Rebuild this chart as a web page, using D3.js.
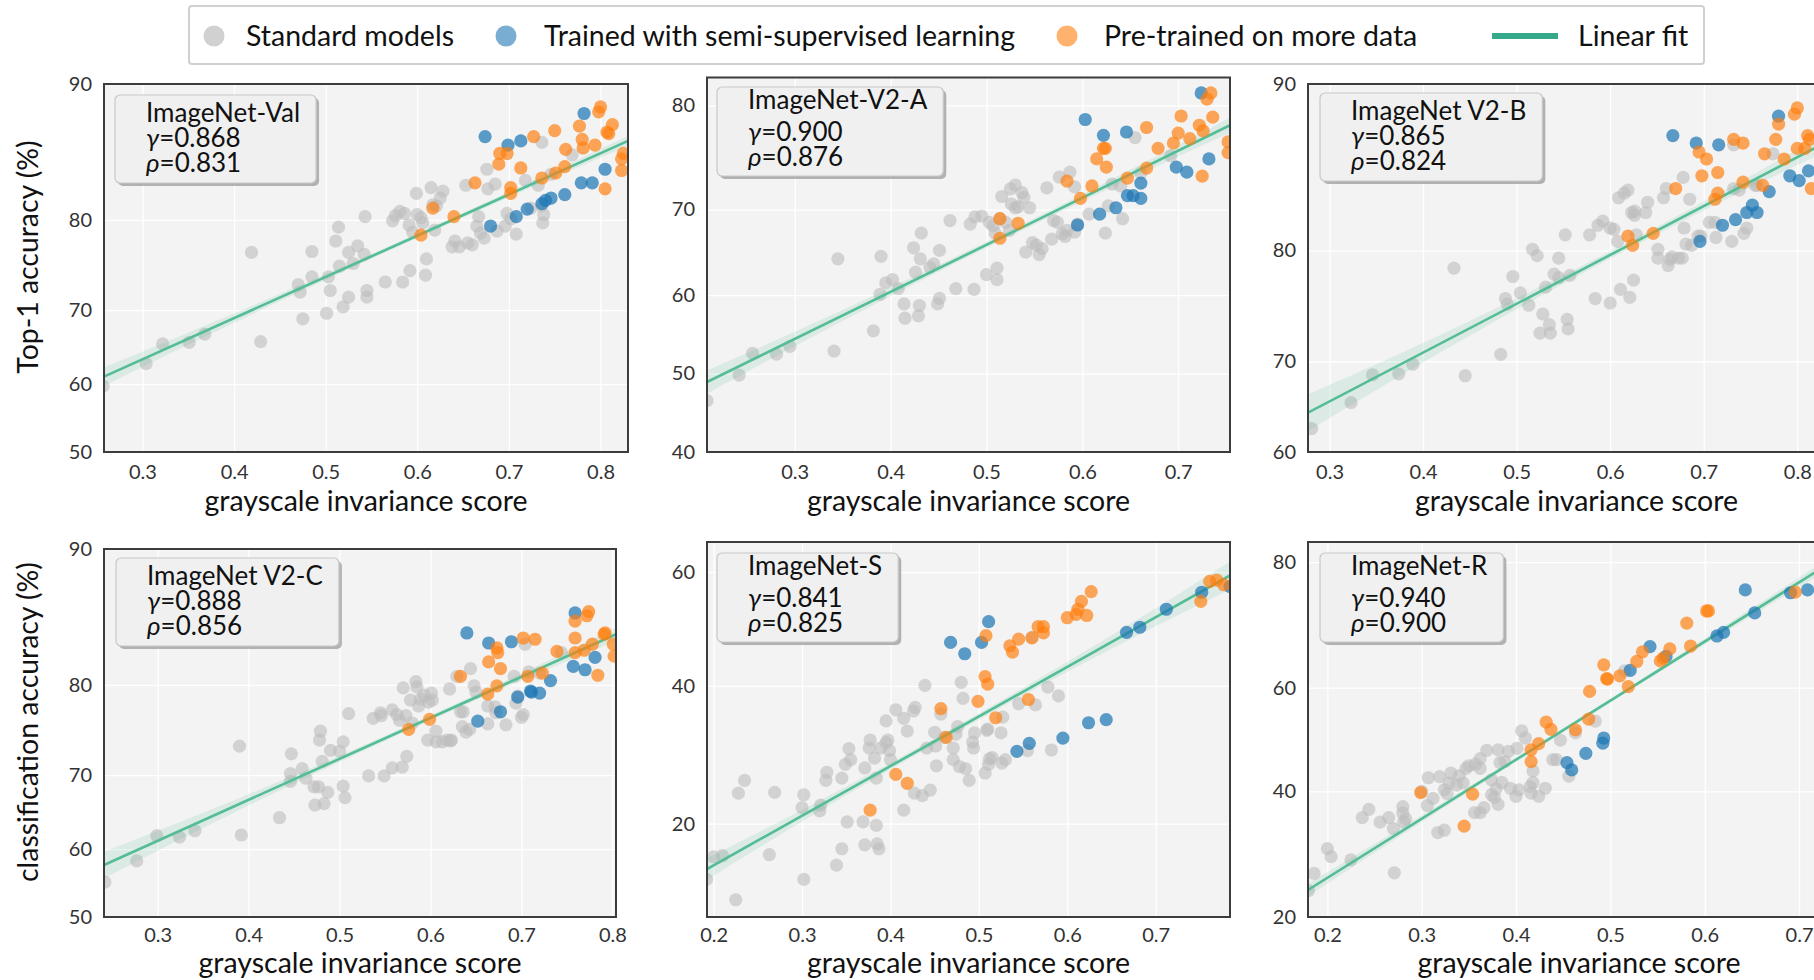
<!DOCTYPE html>
<html><head><meta charset="utf-8">
<script src="https://cdn.jsdelivr.net/npm/d3@7"></script>
<style>
body{margin:0;background:#fff;}
svg text{font-family:Lato,"Open Sans","Noto Sans",sans-serif;}
</style>
</head><body>
<svg id="chart" width="1814" height="980"></svg>
<script>
// ---------------- DATA ----------------
const panelNames = ["ImageNet-Val","ImageNet-V2-A","ImageNet V2-B","ImageNet V2-C","ImageNet-S","ImageNet-R"];
const gammaVals = ["0.868","0.900","0.865","0.888","0.841","0.940"];
const rhoVals   = ["0.831","0.876","0.824","0.856","0.825","0.900"];
const rowYLabels = ["Top-1 accuracy (%)","classification accuracy (%)"];
const xLabel = "grayscale invariance score";
const legendLabels = ["Standard models","Trained with semi-supervised learning","Pre-trained on more data","Linear fit"];

const xDomains = [[0.258,0.830],[0.2085,0.754],[0.277,0.851],[0.241,0.804],[0.1925,0.784],[0.1795,0.754]];
const yDomains = [[50,90],[40,82.2],[60,90],[50,90],[11.4,65.0],[20,82.4]];
const xTicks = [[0.3,0.4,0.5,0.6,0.7,0.8],[0.3,0.4,0.5,0.6,0.7],[0.3,0.4,0.5,0.6,0.7,0.8],
                [0.3,0.4,0.5,0.6,0.7,0.8],[0.2,0.3,0.4,0.5,0.6,0.7],[0.2,0.3,0.4,0.5,0.6,0.7]];
const yTicks = [[50,60,70,80,90],[40,50,60,70,80],[60,70,80,90],[50,60,70,80,90],[20,40,60],[20,40,60,80]];

// linear fit endpoints (x0,y0,x1,y1) and CI half-width (logit units) at left, middle, right
const fitLines = [[0.257,61.0,0.830,86.5],[0.2085,48.9,0.754,78.3],[0.279,64.6,0.818,86.8],
                  [0.241,57.7,0.804,84.4],[0.192,15.3,0.784,59.4],[0.1795,23.6,0.712,78.3]];
const fitBands = [[0.055,0.015,0.03],[0.06,0.016,0.04],[0.09,0.02,0.05],[0.08,0.017,0.04],[0.077,0.022,0.1],[0.05,0.015,0.05]];

// ImageNet-Val
const valStd = [[0.257,59.7],[0.304,62.9],[0.322,65.6],[0.351,65.8],[0.368,66.9],[0.419,76.7],[0.429,65.9],[0.470,73.1],[0.472,72.2],[0.475,68.9],[0.485,74.0],[0.485,76.8],[0.501,69.6],[0.505,72.4],[0.503,74.0],[0.511,77.9],[0.514,79.3],[0.515,75.2],[0.519,70.4],[0.525,71.6],[0.525,76.7],[0.530,75.5],[0.535,77.4],[0.542,76.5],[0.543,80.3],[0.545,72.4],[0.545,71.6],[0.565,73.4],[0.573,79.9],[0.576,80.4],[0.581,80.8],[0.584,73.4],[0.586,80.6],[0.592,74.7],[0.591,79.5],[0.595,78.8],[0.599,82.4],[0.600,80.5],[0.604,80.2],[0.606,79.7],[0.609,74.2],[0.610,76.0],[0.615,82.9],[0.617,81.4],[0.619,79.0],[0.621,81.3],[0.625,82.0],[0.628,82.6],[0.638,77.3],[0.641,77.9],[0.646,77.3],[0.653,83.1],[0.655,77.7],[0.660,77.5],[0.667,80.3],[0.665,79.4],[0.669,78.7],[0.676,84.4],[0.677,82.8],[0.673,78.2],[0.685,83.2],[0.687,78.9],[0.696,79.4],[0.698,80.6],[0.702,80.1],[0.708,78.6],[0.718,83.5],[0.724,81.1],[0.732,83.1],[0.736,86.4],[0.737,79.7],[0.738,80.5],[0.746,84.0],[0.769,85.5],[0.736,81.3]];
const valSemi = [[0.674,86.8],[0.699,86.2],[0.713,86.5],[0.782,88.3],[0.708,80.3],[0.720,81.0],[0.736,81.5],[0.740,81.8],[0.746,82.0],[0.761,82.3],[0.779,83.3],[0.791,83.3],[0.805,84.4],[0.680,79.4]];
const valMore = [[0.800,88.7],[0.798,88.4],[0.813,87.6],[0.807,87.1],[0.809,87.0],[0.777,87.5],[0.780,86.6],[0.781,86.0],[0.794,86.2],[0.750,87.2],[0.727,86.8],[0.762,85.9],[0.690,85.6],[0.698,85.6],[0.689,84.8],[0.713,84.5],[0.663,83.3],[0.702,82.9],[0.702,82.4],[0.761,84.6],[0.736,83.7],[0.751,84.1],[0.805,82.8],[0.823,85.2],[0.825,85.6],[0.823,84.3],[0.640,80.3],[0.604,78.5],[0.617,81.1]];

// ImageNet-V2-A
const v2aStd = [[0.2085,46.5],[0.242,49.8],[0.256,52.6],[0.281,52.5],[0.295,53.5],[0.341,52.9],[0.345,64.4],[0.382,55.5],[0.390,64.7],[0.389,60.1],[0.395,61.5],[0.402,61.9],[0.408,60.8],[0.414,58.9],[0.415,57.1],[0.424,65.7],[0.426,62.8],[0.429,57.4],[0.430,58.7],[0.431,64.4],[0.432,67.4],[0.441,63.4],[0.445,63.8],[0.449,58.9],[0.451,59.6],[0.451,65.4],[0.462,68.8],[0.468,60.8],[0.483,68.4],[0.487,60.7],[0.488,69.2],[0.495,69.3],[0.500,62.5],[0.503,68.6],[0.507,68.2],[0.509,67.4],[0.511,63.3],[0.511,61.9],[0.514,69.0],[0.516,71.4],[0.520,68.6],[0.524,67.7],[0.525,72.2],[0.526,70.6],[0.530,72.6],[0.530,70.2],[0.533,70.3],[0.537,71.8],[0.539,71.3],[0.541,65.2],[0.545,70.2],[0.548,66.3],[0.552,66.0],[0.555,64.9],[0.558,65.6],[0.563,72.3],[0.568,66.7],[0.570,68.8],[0.574,68.6],[0.576,73.4],[0.579,67.3],[0.582,67.0],[0.584,67.7],[0.587,73.9],[0.592,72.4],[0.592,67.5],[0.595,68.4],[0.607,69.5],[0.624,67.4],[0.627,70.4],[0.631,72.7],[0.640,72.5],[0.642,69.0],[0.655,77.2],[0.661,73.8],[0.692,75.5]];
const v2aSemi = [[0.603,78.8],[0.622,77.4],[0.646,77.7],[0.724,81.0],[0.732,75.2],[0.698,74.4],[0.709,73.9],[0.661,72.8],[0.647,71.5],[0.653,71.5],[0.661,71.2],[0.635,70.2],[0.618,69.5],[0.595,68.3]];
const v2aMore = [[0.734,81.0],[0.730,80.5],[0.703,79.1],[0.736,79.0],[0.722,78.3],[0.726,77.8],[0.700,77.6],[0.712,77.1],[0.695,76.7],[0.667,78.1],[0.752,76.8],[0.752,75.8],[0.679,76.2],[0.622,76.2],[0.624,76.2],[0.615,75.2],[0.625,74.4],[0.667,74.3],[0.647,73.3],[0.725,73.5],[0.584,73.0],[0.610,72.5],[0.598,71.2],[0.533,68.5],[0.514,69.0],[0.514,66.8]];

// ImageNet V2-B
const v2bStd = [[0.281,62.7],[0.323,65.6],[0.346,68.6],[0.374,68.7],[0.389,69.7],[0.433,78.6],[0.445,68.5],[0.483,70.7],[0.488,76.0],[0.490,75.5],[0.496,77.9],[0.504,76.5],[0.513,75.4],[0.517,80.1],[0.522,79.6],[0.525,72.8],[0.528,74.6],[0.531,77.0],[0.535,73.6],[0.536,72.8],[0.540,78.1],[0.545,79.4],[0.545,77.8],[0.552,81.2],[0.554,74.1],[0.555,73.2],[0.557,78.0],[0.578,81.2],[0.584,76.0],[0.587,81.9],[0.592,82.2],[0.600,81.7],[0.600,75.6],[0.604,81.6],[0.608,80.7],[0.609,83.8],[0.611,76.8],[0.615,84.1],[0.619,84.3],[0.621,76.1],[0.623,82.8],[0.625,77.6],[0.626,82.9],[0.626,82.6],[0.628,81.2],[0.638,82.8],[0.640,83.5],[0.651,80.1],[0.651,79.4],[0.657,83.8],[0.660,84.4],[0.662,78.8],[0.664,79.3],[0.666,79.5],[0.673,79.4],[0.677,79.4],[0.678,85.1],[0.679,81.7],[0.681,80.5],[0.685,83.7],[0.687,80.4],[0.694,81.1],[0.697,81.1],[0.706,82.1],[0.712,82.1],[0.713,81.0],[0.730,80.7],[0.732,87.0],[0.732,84.4],[0.738,84.3],[0.743,81.3],[0.746,81.7],[0.757,84.6],[0.774,86.5],[0.755,84.6]];
const v2bSemi = [[0.667,87.5],[0.692,87.1],[0.716,87.0],[0.780,88.5],[0.792,85.2],[0.802,84.9],[0.812,85.5],[0.770,84.2],[0.752,83.3],[0.746,82.8],[0.757,82.8],[0.734,82.3],[0.720,81.9],[0.696,80.7]];
const v2bMore = [[0.800,88.9],[0.797,88.6],[0.780,88.1],[0.777,87.3],[0.811,87.5],[0.813,87.3],[0.800,86.8],[0.808,86.8],[0.732,87.3],[0.742,87.1],[0.695,86.6],[0.703,86.2],[0.765,86.5],[0.786,86.2],[0.698,85.2],[0.715,85.4],[0.742,84.8],[0.763,84.6],[0.670,84.4],[0.715,84.1],[0.712,83.7],[0.815,84.4],[0.646,81.3],[0.619,81.1],[0.624,80.4]];

// ImageNet V2-C
const v2cStd = [[0.242,55.2],[0.277,58.3],[0.299,61.9],[0.324,61.7],[0.341,62.6],[0.390,73.5],[0.392,62.0],[0.434,64.4],[0.447,72.6],[0.446,70.2],[0.446,69.2],[0.459,70.8],[0.463,69.6],[0.472,68.5],[0.473,66.1],[0.477,68.5],[0.479,75.2],[0.478,74.2],[0.481,71.7],[0.483,66.3],[0.487,67.8],[0.490,73.0],[0.500,72.9],[0.504,74.0],[0.504,68.6],[0.506,67.1],[0.510,77.1],[0.532,69.9],[0.537,76.6],[0.545,77.2],[0.546,76.9],[0.549,69.9],[0.558,70.9],[0.558,77.5],[0.563,77.0],[0.566,76.4],[0.569,71.0],[0.570,79.7],[0.573,76.9],[0.574,72.3],[0.578,78.5],[0.580,76.1],[0.584,80.3],[0.585,79.8],[0.587,77.9],[0.589,78.6],[0.593,79.0],[0.597,74.2],[0.598,78.3],[0.601,79.2],[0.602,78.5],[0.606,75.2],[0.606,74.0],[0.613,74.0],[0.618,74.2],[0.621,79.6],[0.622,74.1],[0.623,74.2],[0.629,80.8],[0.633,77.3],[0.635,75.7],[0.636,77.3],[0.639,75.1],[0.643,75.4],[0.644,81.5],[0.648,79.9],[0.650,79.3],[0.663,76.0],[0.663,77.9],[0.671,77.8],[0.672,77.2],[0.683,75.9],[0.692,80.8],[0.694,78.2],[0.696,78.9],[0.700,76.7],[0.702,77.0],[0.704,83.6],[0.708,81.2],[0.720,81.1],[0.744,82.9]];
const v2cSemi = [[0.640,84.5],[0.664,83.7],[0.689,83.8],[0.759,86.0],[0.781,82.5],[0.757,81.7],[0.770,81.4],[0.732,80.4],[0.711,79.3],[0.710,79.4],[0.720,79.2],[0.696,78.8],[0.677,77.3],[0.652,76.3]];
const v2cMore = [[0.774,86.1],[0.772,85.8],[0.759,85.4],[0.759,84.1],[0.792,84.5],[0.791,84.4],[0.801,83.6],[0.802,82.6],[0.778,83.6],[0.769,83.1],[0.759,82.9],[0.739,83.0],[0.702,84.1],[0.715,84.0],[0.673,83.3],[0.674,82.9],[0.664,82.1],[0.677,81.5],[0.707,80.8],[0.723,81.1],[0.784,80.9],[0.633,80.8],[0.663,79.1],[0.673,79.9],[0.599,76.5],[0.576,75.4]];

// ImageNet-S
const sStd = [[0.192,14.4],[0.200,16.5],[0.210,16.6],[0.225,12.7],[0.228,23.7],[0.235,25.4],[0.263,16.7],[0.269,23.8],[0.302,23.5],[0.300,21.9],[0.302,14.4],[0.320,21.5],[0.321,22.2],[0.327,25.4],[0.328,26.5],[0.339,15.7],[0.345,17.3],[0.345,25.7],[0.349,27.6],[0.351,20.2],[0.355,28.3],[0.353,29.9],[0.369,20.2],[0.371,27.1],[0.371,17.7],[0.376,30.0],[0.377,31.2],[0.382,28.5],[0.384,19.8],[0.384,25.7],[0.385,17.8],[0.387,17.3],[0.389,30.0],[0.395,34.2],[0.395,30.8],[0.397,31.2],[0.399,29.6],[0.400,28.3],[0.406,36.0],[0.415,34.6],[0.419,32.6],[0.415,21.6],[0.426,35.8],[0.428,36.4],[0.427,23.7],[0.436,23.4],[0.439,40.1],[0.441,30.0],[0.445,24.1],[0.450,32.4],[0.451,30.3],[0.452,27.4],[0.457,35.3],[0.461,31.6],[0.471,30.0],[0.471,28.3],[0.474,32.1],[0.476,33.3],[0.478,27.3],[0.480,40.6],[0.482,37.9],[0.485,27.0],[0.489,25.4],[0.493,30.9],[0.494,30.0],[0.495,32.3],[0.507,26.4],[0.509,32.7],[0.510,32.9],[0.511,27.6],[0.512,28.4],[0.515,28.6],[0.525,32.3],[0.526,27.8],[0.527,34.8],[0.530,28.3],[0.545,37.0],[0.555,29.6],[0.560,48.5],[0.564,36.8],[0.578,39.8],[0.582,29.7],[0.590,38.3]];
const sSemi = [[0.511,51.3],[0.468,47.6],[0.484,45.6],[0.503,47.6],[0.543,29.5],[0.557,30.7],[0.595,31.5],[0.624,33.9],[0.644,34.4],[0.667,49.4],[0.682,50.3],[0.712,53.5],[0.752,56.5],[0.784,57.5]];
const sMore = [[0.627,56.6],[0.616,54.9],[0.612,53.5],[0.610,52.6],[0.622,52.4],[0.600,52.0],[0.567,50.4],[0.573,50.4],[0.573,49.3],[0.560,48.4],[0.545,48.2],[0.535,47.0],[0.538,45.9],[0.508,48.8],[0.507,41.6],[0.510,40.3],[0.499,37.4],[0.556,37.7],[0.519,34.7],[0.457,36.2],[0.463,31.6],[0.406,26.2],[0.419,25.0],[0.377,21.6],[0.761,58.4],[0.769,58.6],[0.777,57.8],[0.751,54.9]];

// ImageNet-R
const rStd = [[0.180,23.5],[0.186,26.0],[0.200,29.9],[0.204,28.6],[0.225,28.1],[0.237,35.2],[0.244,36.7],[0.256,34.4],[0.265,35.2],[0.271,26.1],[0.270,33.3],[0.280,37.2],[0.280,36.0],[0.283,35.0],[0.281,34.4],[0.300,40.0],[0.306,37.4],[0.307,42.6],[0.312,38.7],[0.317,32.6],[0.319,42.8],[0.324,33.0],[0.324,40.3],[0.327,39.6],[0.329,41.6],[0.331,43.5],[0.337,41.2],[0.340,43.0],[0.344,41.6],[0.347,44.4],[0.350,44.9],[0.357,45.2],[0.356,36.1],[0.362,36.1],[0.362,46.3],[0.362,44.4],[0.366,37.0],[0.369,47.9],[0.374,39.4],[0.374,42.2],[0.377,38.9],[0.379,40.5],[0.381,37.6],[0.381,48.0],[0.383,45.5],[0.385,41.7],[0.388,45.7],[0.392,47.7],[0.394,40.6],[0.400,39.1],[0.401,48.3],[0.403,40.3],[0.406,51.7],[0.410,50.3],[0.415,40.9],[0.416,39.7],[0.418,43.9],[0.418,41.7],[0.424,39.1],[0.431,40.6],[0.439,46.1],[0.443,46.1],[0.447,49.9],[0.456,42.9],[0.463,51.3],[0.484,53.6],[0.515,63.1]];
const rSemi = [[0.643,76.3],[0.691,75.9],[0.709,76.3],[0.653,72.9],[0.613,69.2],[0.620,69.8],[0.542,67.4],[0.559,65.7],[0.521,63.2],[0.493,50.3],[0.492,49.3],[0.474,47.3],[0.454,45.5],[0.459,44.1]];
const rMore = [[0.602,73.2],[0.604,73.2],[0.581,71.3],[0.696,76.0],[0.585,67.5],[0.563,67.0],[0.534,66.5],[0.528,64.8],[0.553,64.9],[0.556,65.4],[0.493,64.2],[0.497,61.6],[0.496,61.7],[0.510,62.2],[0.519,60.2],[0.478,59.3],[0.477,54.0],[0.463,51.9],[0.432,53.4],[0.437,52.0],[0.424,49.2],[0.416,48.0],[0.416,45.7],[0.299,39.8],[0.354,39.5],[0.345,33.7]];

const stdSeries  = [valStd, v2aStd, v2bStd, v2cStd, sStd, rStd];
const semiSeries = [valSemi, v2aSemi, v2bSemi, v2cSemi, sSemi, rSemi];
const moreSeries = [valMore, v2aMore, v2bMore, v2cMore, sMore, rMore];

// ---------------- LAYOUT / STYLE ----------------
const layout = [
  {x:104,  y:84,   w:524, h:368,   bx:11, by:11,  wide:false, lab:59, pad:13},
  {x:707,  y:77.5, w:523, h:374.5, bx:10, by:9.5, wide:true,  lab:59, pad:13},
  {x:1308, y:84,   w:537, h:368,   bx:12, by:9,   wide:false, lab:59, pad:13},
  {x:104,  y:549,  w:512, h:368,   bx:12, by:9,   wide:false, lab:56, pad:11},
  {x:707,  y:542,  w:523, h:375,   bx:10, by:11,  wide:true,  lab:56, pad:11},
  {x:1308, y:542,  w:542, h:375,   bx:12, by:11,  wide:true,  lab:56, pad:11}
];
const C = {
  bg:"#f3f3f3", frame:"#3c3c3c", grid:"#ffffff",
  std:"#bdbdbd", semi:"#1f77b4", more:"#ff7f0e",
  fit:"#55bd95", band:"#55bd95", legendFit:"#35a98a", tick:"#333", label:"#111"
};
const FONT = "Lato, 'Open Sans', sans-serif";
const R = 6.6;

const svg = d3.select("#chart");
const logit = p => Math.log(p/(100-p));
const expit = l => 100/(1+Math.exp(-l));

layout.forEach((L, i) => {
  const g = svg.append("g").attr("transform", `translate(${L.x},${L.y})`);
  const x = d3.scaleLinear().domain(xDomains[i]).range([0, L.w]);
  const yl = d3.scaleLinear().domain(yDomains[i].map(logit)).range([L.h, 0]);
  const y = v => yl(logit(v));

  const clipId = "clip"+i;
  g.append("clipPath").attr("id", clipId).append("rect").attr("width", L.w).attr("height", L.h);

  g.append("rect").attr("width", L.w).attr("height", L.h).attr("fill", C.bg);

  // grid
  g.append("g").attr("transform", `translate(0,${L.h})`)
    .call(d3.axisBottom(x).tickValues(xTicks[i]).tickSize(-L.h).tickFormat(""))
    .call(s => { s.select(".domain").remove(); s.selectAll("line").attr("stroke", C.grid).attr("stroke-width", 1.3); });
  g.append("g")
    .call(d3.axisLeft(yl).tickValues(yTicks[i].map(logit)).tickSize(-L.w).tickFormat(""))
    .call(s => { s.select(".domain").remove(); s.selectAll("line").attr("stroke", C.grid).attr("stroke-width", 1.3); });

  const plot = g.append("g").attr("clip-path", `url(#${clipId})`);

  plot.append("g").selectAll("circle").data(stdSeries[i]).join("circle")
    .attr("cx", d => x(d[0])).attr("cy", d => y(d[1])).attr("r", R)
    .attr("fill", C.std).attr("fill-opacity", 0.6);

  // fit line + CI band (in logit space)
  const [fx0, fy0, fx1, fy1] = fitLines[i];
  const slope = (logit(fy1) - logit(fy0)) / (fx1 - fx0);
  const fitL = xv => logit(fy0) + slope * (xv - fx0);
  const [hl, hm, hr] = fitBands[i];
  const [d0, d1] = xDomains[i];
  const hw = xv => { const t = (xv - d0) / (d1 - d0);
    return hl*(2*t-1)*(t-1) + hm*4*t*(1-t) + hr*t*(2*t-1); };
  const xs = d3.range(0, 41).map(k => d0 + (d1 - d0) * k / 40);
  plot.append("path").datum(xs)
    .attr("d", d3.area().x(v => x(v)).y0(v => yl(fitL(v) - hw(v))).y1(v => yl(fitL(v) + hw(v))))
    .attr("fill", C.band).attr("fill-opacity", 0.15);
  plot.append("path").datum([d0, d1])
    .attr("d", d3.line().x(v => x(v)).y(v => yl(fitL(v))))
    .attr("stroke", C.fit).attr("stroke-width", 2.6).attr("fill", "none");

  plot.append("g").selectAll("circle").data(semiSeries[i]).join("circle")
    .attr("cx", d => x(d[0])).attr("cy", d => y(d[1])).attr("r", R)
    .attr("fill", C.semi).attr("fill-opacity", 0.72);
  plot.append("g").selectAll("circle").data(moreSeries[i]).join("circle")
    .attr("cx", d => x(d[0])).attr("cy", d => y(d[1])).attr("r", R)
    .attr("fill", C.more).attr("fill-opacity", 0.68);

  // frame
  g.append("rect").attr("width", L.w).attr("height", L.h)
    .attr("fill", "none").attr("stroke", C.frame).attr("stroke-width", 2);

  // tick labels
  g.append("g").attr("transform", `translate(0,${L.h})`)
    .call(d3.axisBottom(x).tickValues(xTicks[i]).tickSize(0).tickPadding(L.pad).tickFormat(d3.format(".1f")))
    .call(s => { s.select(".domain").remove();
      s.selectAll("text").attr("font-size", 20).attr("fill", C.tick).style("font-family", FONT); });
  g.append("g")
    .call(d3.axisLeft(yl).tickValues(yTicks[i].map(logit)).tickSize(0).tickPadding(12)
      .tickFormat(v => Math.round(expit(v))))
    .call(s => { s.select(".domain").remove();
      s.selectAll("text").attr("font-size", 20).attr("fill", C.tick).style("font-family", FONT); });

  // x-axis label
  g.append("text").attr("x", L.w/2).attr("y", L.h + L.lab)
    .attr("text-anchor", "middle").attr("font-size", 28.5).attr("fill", C.label).text(xLabel);

  // info box
  const box = g.append("g").attr("transform", `translate(${L.bx},${L.by})`);
  const base = L.wide ? [22, 54, 79] : [27, 52, 77];
  const tg = box.append("g").attr("font-size", 26).attr("fill", "#111");
  tg.append("text").attr("x", 31).attr("y", base[0]).text(panelNames[i]);
  const t2 = tg.append("text").attr("x", 31).attr("y", base[1]);
  t2.append("tspan").attr("font-style", "italic").text("γ");
  t2.append("tspan").text("=" + gammaVals[i]);
  const t3 = tg.append("text").attr("x", 31).attr("y", base[2]);
  t3.append("tspan").attr("font-style", "italic").text("ρ");
  t3.append("tspan").text("=" + rhoVals[i]);
  const tw = d3.max(tg.selectAll("text").nodes(), n => n.getComputedTextLength());
  const bw = 31 + tw + 16, bh = L.wide ? 89 : 88;
  box.insert("rect", ":first-child").attr("width", bw).attr("height", bh).attr("rx", 5)
    .attr("fill", "#f0f0f0").attr("stroke", "#c8c8c8").attr("stroke-width", 1.2);
  box.insert("rect", ":first-child").attr("x", 3).attr("y", 3).attr("width", bw).attr("height", bh).attr("rx", 5)
    .attr("fill", "#7a7a7a").attr("fill-opacity", 0.55);
});

// row y-labels
[[257, 0], [722, 1]].forEach(([cy, k]) => {
  svg.append("text").attr("transform", `translate(38,${cy}) rotate(-90)`)
    .attr("text-anchor", "middle").attr("font-size", 28.4).attr("fill", C.label).text(rowYLabels[k]);
});

// top legend
const lg = svg.append("g");
lg.append("rect").attr("x", 189).attr("y", 6).attr("width", 1515).attr("height", 58).attr("rx", 3)
  .attr("fill", "#fff").attr("stroke", "#d0d0d0").attr("stroke-width", 2);
const legendMarks = [
  {cx:214, tx:246, fill:C.std, op:0.7},
  {cx:506, tx:544, fill:C.semi, op:0.6},
  {cx:1067, tx:1104, fill:C.more, op:0.6}
];
legendMarks.forEach((m, k) => {
  lg.append("circle").attr("cx", m.cx).attr("cy", 36).attr("r", 10.5).attr("fill", m.fill).attr("fill-opacity", m.op);
  lg.append("text").attr("x", m.tx).attr("y", 46).attr("font-size", 28.5).attr("fill", "#111").text(legendLabels[k]);
});
lg.append("line").attr("x1", 1492).attr("x2", 1558).attr("y1", 36).attr("y2", 36)
  .attr("stroke", C.legendFit).attr("stroke-width", 6);
lg.append("text").attr("x", 1578).attr("y", 46).attr("font-size", 28.5).attr("fill", "#111").text(legendLabels[3]);
</script>
</body></html>
